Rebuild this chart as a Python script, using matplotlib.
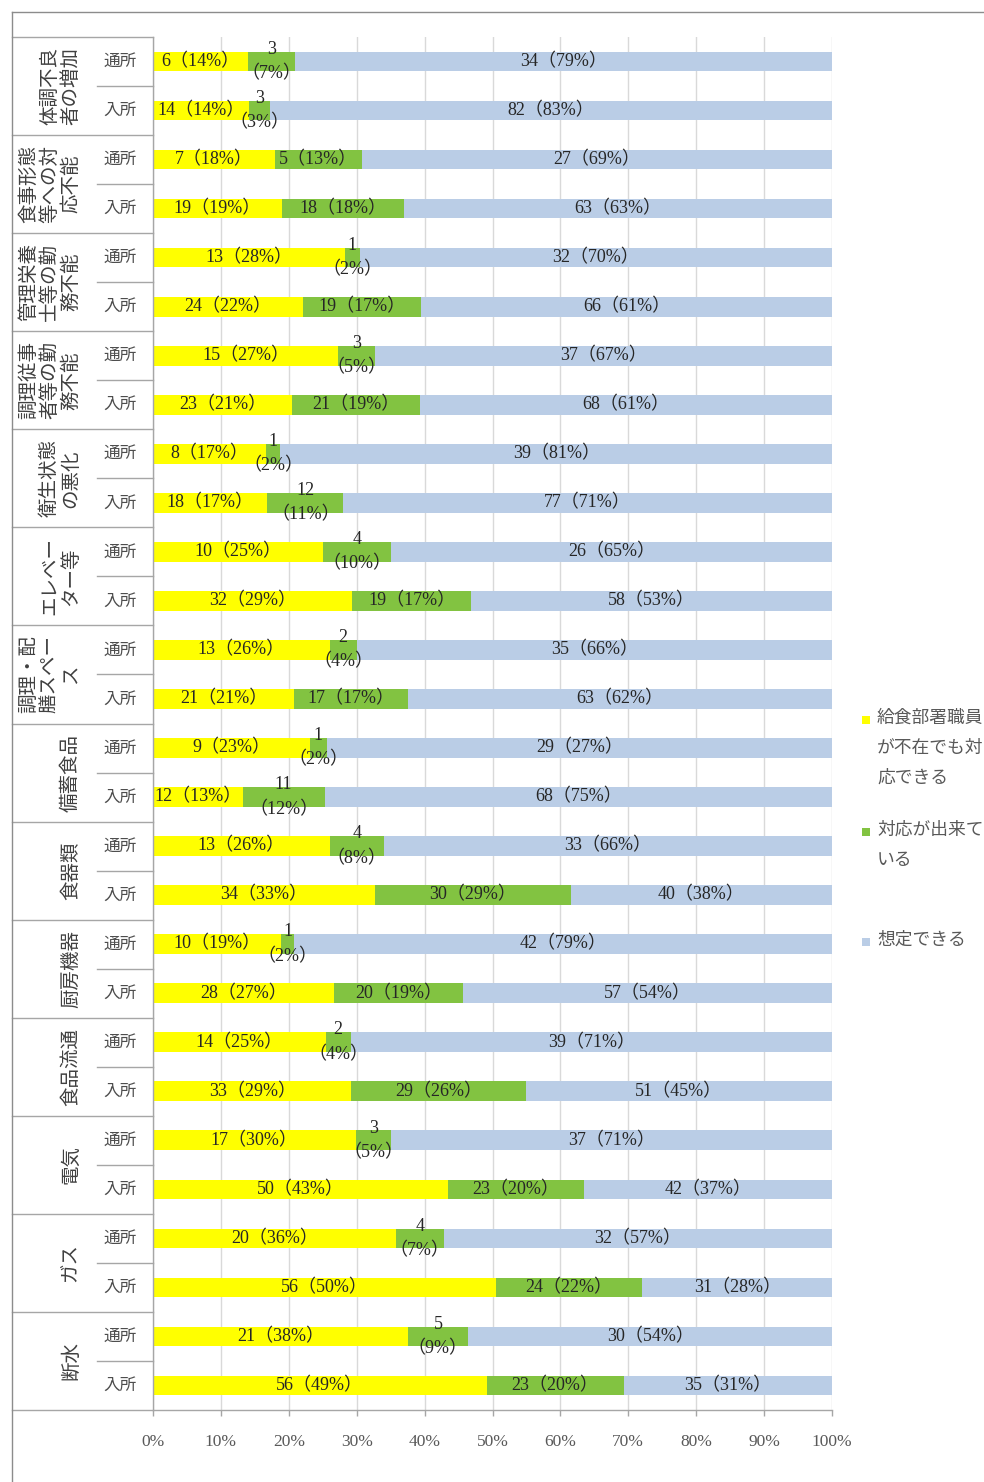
import numpy as np
import matplotlib
matplotlib.use("Agg")
import matplotlib.pyplot as plt
import matplotlib.transforms as mtransforms
from matplotlib.lines import Line2D
from matplotlib.patches import Rectangle

# ---------------------------------------------------------------- data
groups = [
    "体調不良\n者の増加",
    "食事形態\n等への対\n応不能",
    "管理栄養\n士等の勤\n務不能",
    "調理従事\n者等の勤\n務不能",
    "衛生状態\nの悪化",
    "エレベー\nター等",
    "調理・配\n膳スペー\nス",
    "備蓄食品",
    "食器類",
    "厨房機器",
    "食品流通",
    "電気",
    "ガス",
    "断水",
]
facility = ["通所", "入所"]

series = ["給食部署職員が不在でも対応できる", "対応が出来ている", "想定できる"]
series_colors = ["#FFFF00", "#82C341", "#BACDE6"]

able_n = [6, 14, 7, 19, 13, 24, 15, 23, 8, 18, 10, 32, 13, 21,
          9, 12, 13, 34, 10, 28, 14, 33, 17, 50, 20, 56, 21, 56]
able_pct = [14, 14, 18, 19, 28, 22, 27, 21, 17, 17, 25, 29, 26, 21,
            23, 13, 26, 33, 19, 27, 25, 29, 30, 43, 36, 50, 38, 49]
done_n = [3, 3, 5, 18, 1, 19, 3, 21, 1, 12, 4, 19, 2, 17,
          1, 11, 4, 30, 1, 20, 2, 29, 3, 23, 4, 24, 5, 23]
done_pct = [7, 3, 13, 18, 2, 17, 5, 19, 2, 11, 10, 17, 4, 17,
            2, 12, 8, 29, 2, 19, 4, 26, 5, 20, 7, 22, 9, 20]
assumed_n = [34, 82, 27, 63, 32, 66, 37, 68, 39, 77, 26, 58, 35, 63,
             29, 68, 33, 40, 42, 57, 39, 51, 37, 42, 32, 31, 30, 35]
assumed_pct = [79, 83, 69, 63, 70, 61, 67, 61, 81, 71, 65, 53, 66, 62,
               27, 75, 66, 38, 79, 54, 71, 45, 71, 37, 57, 28, 54, 31]

x_ticks = [0, 10, 20, 30, 40, 50, 60, 70, 80, 90, 100]

# ---------------------------------------------------------------- style
CJK = ["Noto Sans CJK JP", "DejaVu Sans"]
SERIF = ["Liberation Serif", "Noto Sans CJK JP", "DejaVu Sans"]
LINE = "#a6a6a6"
TEXT = "#262626"
SOFT = "#595959"

W, H = 984, 1482
fig = plt.figure(figsize=(W / 100, H / 100), dpi=100)
fig.patch.set_facecolor("white")


def fx(px):
    return px / W


def fy(py):
    return 1 - py / H


ax = fig.add_axes([fx(153), 72 / H, 679 / W, 1373 / H])

n_rows = len(able_n)
rows = np.arange(n_rows)
counts = np.array([able_n, done_n, assumed_n], dtype=float)
pcts = [able_pct, done_pct, assumed_pct]
shares = counts / counts.sum(axis=0) * 100

ax.set_xlim(0, 100)
ax.set_ylim(n_rows - 0.5, -0.5)

left = np.zeros(n_rows)
seg_info = []
for k in range(3):
    ax.barh(rows, shares[k], left=left, height=0.4, color=series_colors[k],
            linewidth=0, zorder=2)
    for i in rows:
        seg_info.append((k, i, left[i] + shares[k][i] / 2, shares[k][i]))
    left = left + shares[k]

# value labels, wrapped onto two lines where the segment is clearly too narrow
fig.canvas.draw()
renderer = fig.canvas.get_renderer()
ax_w = ax.get_window_extent(renderer).width
for k, i, xc, w in seg_info:
    n = int(counts[k][i])
    p = pcts[k][i]
    t = ax.text(xc, i, f"{n}（{p}%）", ha="center", va="center",
                fontsize=13, family=SERIF, color=TEXT, zorder=4,
                multialignment="center", linespacing=1.55)
    tw = t.get_window_extent(renderer).width
    if tw > w / 100 * ax_w + 3:
        t.set_text(f"{n}\n（{p}%）")

# axes styling
ax.set_yticks([])
ax.set_xticks(x_ticks)
ax.set_xticklabels([f"{v}%" for v in x_ticks], family=SERIF, fontsize=12.5,
                   color=SOFT)
ax.tick_params(axis="x", length=4, width=1, color=LINE, pad=13)
ax.grid(axis="x", color="#d9d9d9", linewidth=1, zorder=0)
ax.set_axisbelow(True)
for s in ["top", "right"]:
    ax.spines[s].set_visible(False)
for s in ["left", "bottom"]:
    ax.spines[s].set_color(LINE)
    ax.spines[s].set_linewidth(1)

# category table to the left of the plot
bt = mtransforms.blended_transform_factory(ax.transAxes, ax.transData)
x_outer = (12 - 153) / 679
x_inner = (97 - 153) / 679
for g in range(len(groups) + 1):
    yb = 2 * g - 0.5
    ax.add_line(Line2D([x_outer, 0], [yb, yb], transform=bt, color=LINE,
                       lw=1, clip_on=False))
for g in range(len(groups)):
    yb = 2 * g + 0.5
    ax.add_line(Line2D([x_inner, 0], [yb, yb], transform=bt, color=LINE,
                       lw=1, clip_on=False))
    ax.text((81 - 153) / 679, 2 * g + 0.5, groups[g], transform=bt,
            rotation=90, ha="right", va="center", multialignment="center",
            linespacing=1.0, fontsize=14, family=CJK, color="#404040")
for i in rows:
    ax.text((120 - 153) / 679, i, facility[i % 2], transform=bt,
            ha="center", va="center", fontsize=12, family=CJK,
            color="#4d4d4d")

# outer chart frame
fig.add_artist(Line2D([fx(12), 1], [fy(12), fy(12)], color="#8c8c8c", lw=1))
fig.add_artist(Line2D([fx(12), fx(12)], [0, fy(12)], color="#8c8c8c", lw=1))

# legend
legend_lines = []
for name in series:
    legend_lines.append("\n".join(name[j:j + 6] for j in range(0, len(name), 6)))
legend_tops = [709, 821, 931]
for k in range(3):
    ytop = legend_tops[k]
    fig.add_artist(Rectangle((fx(862), fy(ytop + 15)), 8 / W, 8 / H,
                             transform=fig.transFigure,
                             facecolor=series_colors[k], edgecolor="none"))
    fig.text(fx(877), fy(ytop), legend_lines[k], ha="left", va="top",
             fontsize=12.8, family=CJK, color=SOFT, linespacing=1.85)

fig.savefig("out.png", dpi=100, facecolor="white")
